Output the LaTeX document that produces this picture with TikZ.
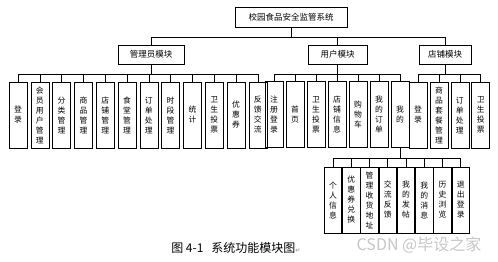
\documentclass[tikz,border=0pt]{standalone}
\usepackage{fontspec}
\newfontfamily\cjk{Noto Sans CJK SC}
\newfontfamily\sym{DejaVu Sans}
\usetikzlibrary{positioning}

\begin{document}
\begin{tikzpicture}[x=1pt,y=-1pt,line width=0.6pt,node distance=3.2pt,
        box/.style={draw,inner sep=0pt,font=\cjk\fontsize{8.5}{10}\selectfont},
        leaf/.style={draw,inner sep=0pt,minimum width=18pt,minimum height=66pt,align=center,font=\cjk\fontsize{7.8}{10}\selectfont}]
        \useasboundingbox (0,0) rectangle (498,262);
        % top levels
        \node[box,minimum width=112pt,minimum height=20pt] (sys) at (291,17) {校园食品安全监管系统};
        \node[box,minimum width=66pt,minimum height=19pt] (admin) at (151,54.5) {管理员模块};
        \node[box,minimum width=59pt,minimum height=19pt] (user) at (337.5,54.5) {用户模块};
        \node[box,minimum width=52pt,minimum height=19pt] (store) at (445,54.5) {店铺模块};
        % admin functions
        \node[leaf] (a1) at (18,115) {登\\录};
        \node[leaf,right=of a1] (a2) {会\\员\\用\\户\\管\\理};
        \node[leaf,right=of a2] (a3) {分\\类\\管\\理};
        \node[leaf,right=of a3] (a4) {商\\品\\管\\理};
        \node[leaf,right=of a4] (a5) {店\\铺\\管\\理};
        \node[leaf,right=of a5] (a6) {食\\堂\\管\\理};
        \node[leaf,right=of a6] (a7) {订\\单\\处\\理};
        \node[leaf,right=of a7] (a8) {时\\段\\管\\理};
        \node[leaf,right=of a8] (a9) {统\\计};
        \node[leaf,right=of a9] (a10) {卫\\生\\投\\票};
        \node[leaf,right=of a10] (a11) {优\\惠\\券};
        \node[leaf,right=of a11] (a12) {反\\馈\\交\\流};
        % user functions
        \node[leaf] (u1) at (274,114.5) {注\\册\\登\\录};
        \node[leaf,right=2.4pt of u1] (u2) {首\\页};
        \node[leaf,right=2.4pt of u2] (u3) {卫\\生\\投\\票};
        \node[leaf,right=2.4pt of u3] (u4) {店\\铺\\信\\息};
        \node[leaf,right=2.4pt of u4] (u5) {购\\物\\车};
        \node[leaf,right=2.4pt of u5] (u6) {我\\的\\订\\单};
        \node[leaf,right=2.4pt of u6] (u7) {我\\的};
        % store functions
        \node[leaf] (s1) at (418,115) {登\\录};
        \node[leaf,right=2.3pt of s1] (s2) {商\\品\\套\\餐\\管\\理};
        \node[leaf,right=2.3pt of s2] (s3) {订\\单\\处\\理};
        \node[leaf,right=2.3pt of s3] (s4) {卫\\生\\投\\票};
        % "my" sub functions
        \node[leaf,minimum width=17.5pt] (m1) at (333,200) {个\\人\\信\\息};
        \node[leaf,minimum width=17.5pt,right=0.15pt of m1] (m2) {优\\惠\\券\\兑\\换};
        \node[leaf,minimum width=17.5pt,right=0.15pt of m2] (m3) {管\\理\\收\\货\\地\\址};
        \node[leaf,minimum width=17.5pt,right=0.15pt of m3] (m4) {交\\流\\反\\馈};
        \node[leaf,minimum width=17.5pt,right=0.15pt of m4] (m5) {我\\的\\发\\帖};
        \node[leaf,minimum width=17.5pt,right=0.15pt of m5] (m6) {我\\的\\消\\息};
        \node[leaf,minimum width=17.5pt,right=0.15pt of m6] (m7) {历\\史\\浏\\览};
        \node[leaf,minimum width=17.5pt,right=0.15pt of m7] (m8) {退\\出\\登\\录};
        % connectors
        \draw (sys.south) -- ++(0,10) coordinate (b0);
        \draw (admin.north) |- (b0) -| (store.north);
        \draw (user.north) -- (user.north |- b0);
        \draw (admin.south) -- ++(0,10) coordinate (ba);
        \draw (a1.north) |- (ba) -| (a12.north);
        \foreach \i in {2,...,11} \draw (a\i.north) -- (a\i.north |- ba);
        \draw (user.south) -- ++(0,10) coordinate (bu);
        \draw (u1.north) |- (bu) -| (u7.north);
        \foreach \i in {2,...,6} \draw (u\i.north) -- (u\i.north |- bu);
        \draw (store.south) -- ++(0,10) coordinate (bs);
        \draw (s1.north) |- (bs) -| (s4.north);
        \foreach \i in {2,3} \draw (s\i.north) -- (s\i.north |- bs);
        \draw (u7.south) -- ++(0,10) coordinate (bm);
        \draw (m1.north) |- (bm) -| (m8.north);
        \foreach \i in {2,...,7} \draw (m\i.north) -- (m\i.north |- bm);
        % caption and watermark
        \node[anchor=west,inner sep=0pt,font=\cjk\fontsize{12}{12}\selectfont] (cap) at (171,248) {图 4-1\hspace{8pt}系统功能模块图{\sym\fontsize{6}{6}\selectfont\color{gray}↵}};
        \node[inner sep=0pt,font=\cjk\fontsize{16}{16}\selectfont,text=gray!45] (mark) at (419,245) {CSDN @毕设之家};
    \end{tikzpicture}
\end{document}
